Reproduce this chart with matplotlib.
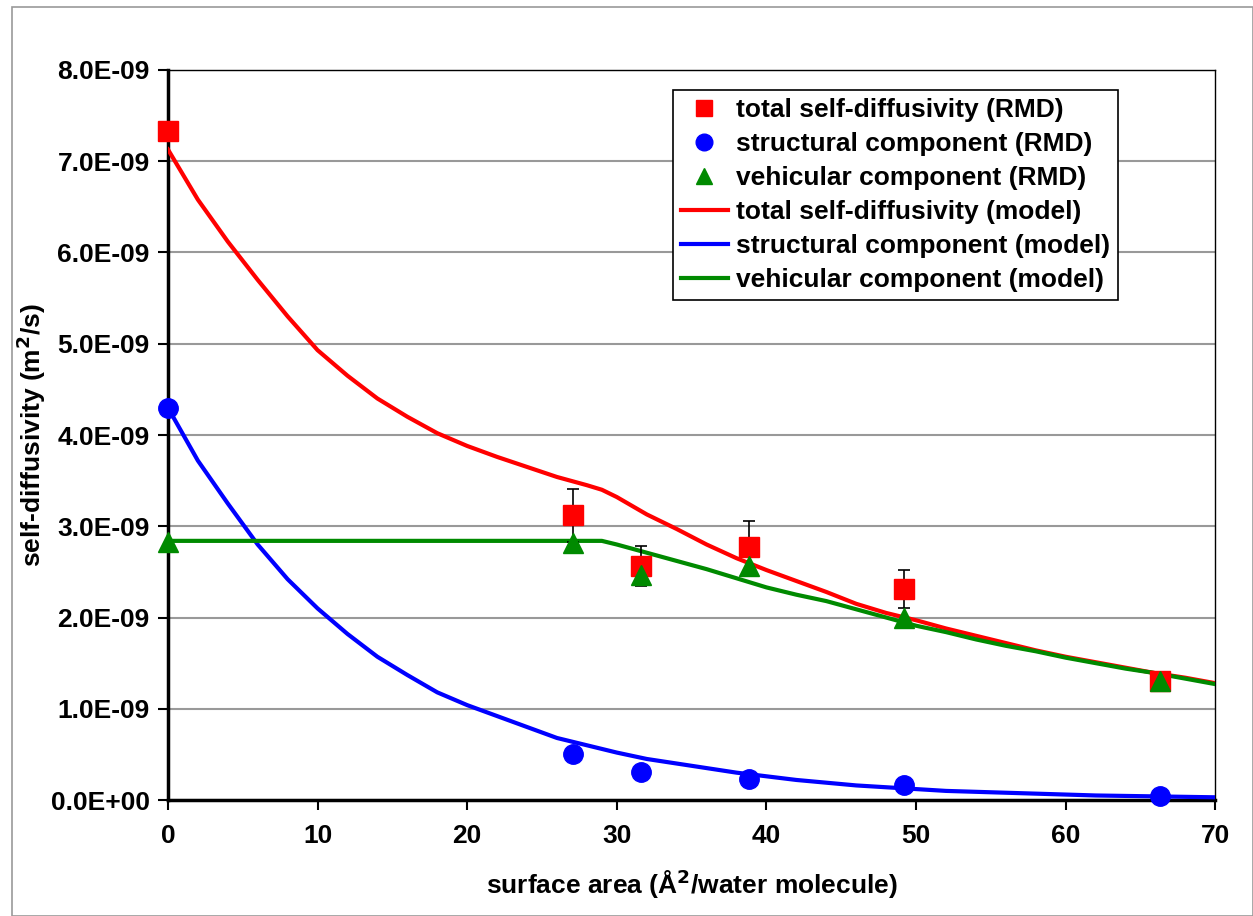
import numpy as np
import matplotlib
matplotlib.use("Agg")
import matplotlib.pyplot as plt
from matplotlib.patches import Rectangle
from matplotlib.lines import Line2D
from matplotlib.ticker import FuncFormatter

plt.rcParams['font.family'] = ['Liberation Sans', 'DejaVu Sans']
plt.rcParams['font.weight'] = 'bold'

# RMD data points
area_rmd = [0, 27.1, 31.6, 38.8, 49.2, 66.3]
total_rmd = [7.33e-9, 3.12e-9, 2.56e-9, 2.77e-9, 2.31e-9, 1.30e-9]
total_err = [0.0, 0.29e-9, 0.22e-9, 0.29e-9, 0.21e-9, 0.08e-9]
struct_rmd = [4.30e-9, 0.50e-9, 0.31e-9, 0.23e-9, 0.17e-9, 0.04e-9]
vehic_rmd = [2.83e-9, 2.82e-9, 2.47e-9, 2.56e-9, 2.00e-9, 1.30e-9]

# model curves (units of 1e-9 m2/s)
area_model = [0, 2, 4, 6, 8, 10, 12, 14, 16, 18, 20, 22, 24, 26, 28, 29, 30, 32, 34,
              36, 38, 40, 42, 44, 46, 48, 50, 52, 54, 56, 58, 60, 62, 64, 66, 68, 70]
total_model = [7.13, 6.58, 6.12, 5.70, 5.30, 4.93, 4.65, 4.40, 4.20, 4.02, 3.88, 3.76,
               3.65, 3.54, 3.45, 3.40, 3.32, 3.13, 2.97, 2.80, 2.65, 2.52, 2.40, 2.28,
               2.15, 2.05, 1.97, 1.88, 1.80, 1.72, 1.64, 1.57, 1.51, 1.45, 1.39, 1.34, 1.28]
struct_model = [4.30, 3.72, 3.25, 2.80, 2.42, 2.10, 1.82, 1.57, 1.37, 1.18, 1.04, 0.92,
                0.80, 0.68, 0.60, 0.56, 0.52, 0.45, 0.40, 0.35, 0.30, 0.26, 0.22, 0.19,
                0.16, 0.14, 0.12, 0.10, 0.09, 0.08, 0.07, 0.06, 0.05, 0.045, 0.04, 0.035, 0.03]
vehic_model = [2.84, 2.84, 2.84, 2.84, 2.84, 2.84, 2.84, 2.84, 2.84, 2.84, 2.84, 2.84,
               2.84, 2.84, 2.84, 2.84, 2.80, 2.71, 2.62, 2.53, 2.43, 2.33, 2.25, 2.18,
               2.09, 2.00, 1.91, 1.84, 1.76, 1.69, 1.63, 1.56, 1.50, 1.44, 1.39, 1.33, 1.27]

labels = ['total self-diffusivity (RMD)', 'structural component (RMD)',
          'vehicular component (RMD)', 'total self-diffusivity (model)',
          'structural component (model)', 'vehicular component (model)']

RED, BLUE, GREEN = '#ff0000', '#0000ff', '#008a00'
FS = 19

fig = plt.figure(figsize=(12.53, 9.16), dpi=100)
ax = fig.add_axes([0.134, 0.1266, 0.836, 0.797])
fig.patches.append(Rectangle((12 / 1253, 0), 1 - 12 / 1253, 1 - 7 / 916, transform=fig.transFigure,
                             fill=False, edgecolor='#999999', linewidth=1.2))

scale = 1e-9
ax.plot(area_model, np.array(total_model) * scale, color=RED, lw=3, zorder=3)
ax.plot(area_model, np.array(struct_model) * scale, color=BLUE, lw=3, zorder=3)
ax.plot(area_model, np.array(vehic_model) * scale, color=GREEN, lw=3, zorder=3)

ax.errorbar(area_rmd, total_rmd, yerr=total_err, fmt='none', ecolor='black',
            elinewidth=1.2, capsize=4, capthick=1.2, zorder=4)
ax.plot(area_rmd, total_rmd, 's', color=RED, ms=14, zorder=5, clip_on=False)
ax.plot(area_rmd, struct_rmd, 'o', color=BLUE, ms=14, zorder=5, clip_on=False)
ax.plot(area_rmd, vehic_rmd, '^', color=GREEN, ms=14, zorder=6, clip_on=False)

ax.set_xlim(0, 70)
ax.set_ylim(0, 8e-9)
ax.set_xticks(range(0, 71, 10))
ax.set_yticks(np.arange(0, 8.01e-9, 1e-9))
ax.yaxis.set_major_formatter(FuncFormatter(lambda v, p: f"{v:.1E}"))
ax.tick_params(axis='both', labelsize=FS, direction='out', length=7, width=1.5)
ax.tick_params(axis='x', pad=10)
ax.tick_params(axis='y', pad=6)
ax.grid(axis='y', color='#999999', lw=1.5)
ax.set_axisbelow(True)
for s in ['left', 'bottom']:
    ax.spines[s].set_linewidth(2.5)
for s in ['top', 'right']:
    ax.spines[s].set_linewidth(1)

ax.set_xlabel('surface area (Å$^{\\mathbf{2}}$/water molecule)', fontsize=FS, fontweight='bold', labelpad=14)
ax.set_ylabel('self-diffusivity (m$^{\\mathbf{2}}$/s)', fontsize=FS, fontweight='bold', labelpad=2)

handles = [
    Line2D([], [], marker='s', color=RED, ls='none', ms=12),
    Line2D([], [], marker='o', color=BLUE, ls='none', ms=12),
    Line2D([], [], marker='^', color=GREEN, ls='none', ms=12),
    Line2D([], [], color=RED, lw=3),
    Line2D([], [], color=BLUE, lw=3),
    Line2D([], [], color=GREEN, lw=3),
]
leg = ax.legend(handles, labels, loc='upper left', bbox_to_anchor=(0.482, 0.972),
                fontsize=FS, frameon=True, fancybox=False, edgecolor='black',
                framealpha=1, handlelength=1.8, handletextpad=0.3, labelspacing=0.38,
                borderpad=0.3, borderaxespad=0)
leg.get_frame().set_linewidth(1.2)

fig.savefig('out.png', dpi=100)
